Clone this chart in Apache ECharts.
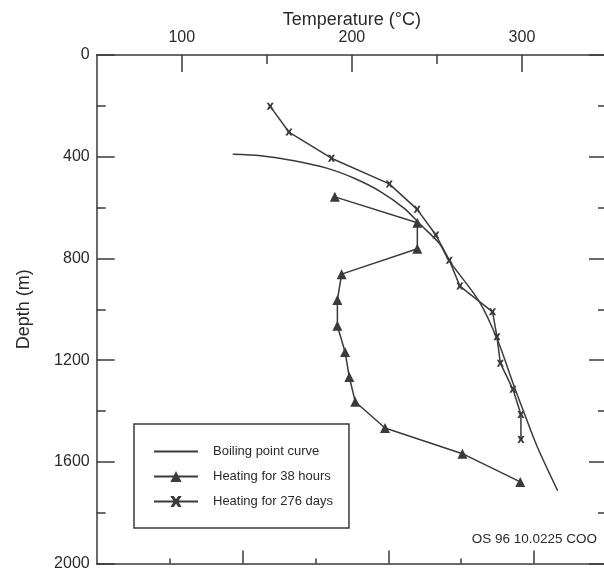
<!DOCTYPE html>
<html><head><meta charset="utf-8">
<script src="https://cdn.jsdelivr.net/npm/echarts@6/dist/echarts.min.js"></script>
<style>html,body{margin:0;padding:0;background:#fff}#c{width:604px;height:568px}</style>
</head><body><div id="c"></div>
<script>
// ---- data ----
const xTitle = 'Temperature (°C)';
const yTitle = 'Depth (m)';
const noteText = 'OS 96 10.0225 COO';
const seriesNames = ['Boiling point curve', 'Heating for 38 hours', 'Heating for 276 days'];

const xMajorTicks = [100, 200, 300];
const xMinorTicks = [150, 250];
const bottomMajorTicks = [2, 4, 6];
const bottomMinorTicks = [1, 3, 5];

const boilTemp  = [130, 146.5, 166, 185.7, 201.4, 217, 230.8, 240.6, 251.4, 257, 275, 285.7, 295.5, 301.4, 309, 321];
const boilDepth = [390, 396, 416, 446, 485, 538, 603, 669, 741, 807, 971, 1122, 1305, 1410, 1541, 1714];

const h38Temp  = [190, 238.5, 238.5, 194, 191.5, 191.5, 196, 198.5, 202, 219.5, 265, 299];
const h38Depth = [558, 660, 762, 862, 964, 1065, 1168, 1266, 1364, 1467, 1568, 1679];

const d276Temp  = [152, 163, 188, 222, 238.4, 249.4, 257.3, 263.5, 282.7, 285.3, 287.3, 294.7, 299.4, 299.4];
const d276Depth = [202, 303, 406, 507, 607, 708, 807, 909, 1010, 1108, 1212, 1315, 1414, 1512];

// ---- chart ----
const ink = '#2a2a2a';
const lineCol = '#3a3a3a';
const font = 'Liberation Sans, Arial, sans-serif';
const crossPath = 'path://M0,0 L3,0 L5,3 L7,0 L10,0 L7,5 L10,10 L7,10 L5,7 L3,10 L0,10 L3,5 Z';
const pair = (xs, ys) => xs.map((x, i) => [x, ys[i]]);

const axLine = {show: true, onZero: false, lineStyle: {color: lineCol, width: 1.5}};
const noLine = {show: false, onZero: false};
const tickStyle = {color: lineCol, width: 1.5};

const chart = echarts.init(document.getElementById('c'), null, {renderer: 'canvas'});
chart.setOption({
  animation: false,
  backgroundColor: '#fff',
  textStyle: {fontFamily: font, color: ink},
  title: {
    text: noteText, right: 7, top: 532, padding: 0,
    textStyle: {fontSize: 13.5, fontWeight: 'normal', color: ink, fontFamily: font}
  },
  grid: {left: 96.7, top: 55, right: -3, bottom: 4.5, outerBoundsMode: 'none', containLabel: false},
  legend: {
    show: true, orient: 'vertical', left: 134, top: 424,
    padding: [21, 16, 20, 19],
    itemWidth: 44, itemHeight: 14, itemGap: 12,
    borderColor: lineCol, borderWidth: 1.5, borderRadius: 0,
    textStyle: {fontSize: 13, color: ink, padding: [0, 0, 0, 10]},
    data: [
      {name: seriesNames[0], itemStyle: {color: 'transparent', borderColor: 'transparent', opacity: 0}},
      {name: seriesNames[1]},
      {name: seriesNames[2]}
    ]
  },
  xAxis: [
    {type: 'value', position: 'top', min: 50, max: 350, interval: 50,
     axisLine: axLine,
     axisTick: {show: true, inside: true, length: 17, customValues: xMajorTicks, lineStyle: tickStyle},
     axisLabel: {show: true, customValues: xMajorTicks, fontSize: 16, margin: 9, color: ink},
     splitLine: {show: false},
     name: xTitle, nameLocation: 'middle', nameGap: 26, nameMoveOverlap: false,
     nameTextStyle: {fontSize: 18, color: ink}},
    {type: 'value', position: 'top', min: 50, max: 350, interval: 50,
     axisLine: noLine,
     axisTick: {show: true, inside: true, length: 9, customValues: xMinorTicks, lineStyle: tickStyle},
     axisLabel: {show: false}, splitLine: {show: false}},
    {type: 'value', position: 'bottom', min: 0, max: 7, interval: 1,
     axisLine: axLine,
     axisTick: {show: true, inside: true, length: 13, customValues: bottomMajorTicks, lineStyle: tickStyle},
     axisLabel: {show: false}, splitLine: {show: false}},
    {type: 'value', position: 'bottom', min: 0, max: 7, interval: 1,
     axisLine: noLine,
     axisTick: {show: true, inside: true, length: 5, customValues: bottomMinorTicks, lineStyle: tickStyle},
     axisLabel: {show: false}, splitLine: {show: false}}
  ],
  yAxis: [
    {type: 'value', inverse: true, position: 'left', min: 0, max: 2000, interval: 400,
     axisLine: axLine,
     axisTick: {show: true, inside: true, length: 18, lineStyle: tickStyle},
     minorTick: {show: true, splitNumber: 2, length: 9, lineStyle: tickStyle},
     axisLabel: {show: true, fontSize: 16, margin: 7, color: ink, formatter: v => String(v)},
     splitLine: {show: false}, minorSplitLine: {show: false},
     name: yTitle, nameLocation: 'middle', nameGap: 64, nameMoveOverlap: false,
     nameTextStyle: {fontSize: 18, color: ink}},
    {type: 'value', inverse: true, position: 'right', min: 0, max: 2000, interval: 400,
     axisLine: axLine,
     axisTick: {show: true, inside: true, length: 18, lineStyle: tickStyle},
     minorTick: {show: true, splitNumber: 2, length: 9, lineStyle: tickStyle},
     axisLabel: {show: false},
     splitLine: {show: false}, minorSplitLine: {show: false}}
  ],
  series: [
    {name: seriesNames[0], type: 'line', xAxisIndex: 0, yAxisIndex: 0,
     data: pair(boilTemp, boilDepth), smooth: 0.3, symbol: 'none', showSymbol: false,
     lineStyle: {color: lineCol, width: 1.5}, itemStyle: {color: lineCol}},
    {name: seriesNames[1], type: 'line', xAxisIndex: 0, yAxisIndex: 0,
     data: pair(h38Temp, h38Depth), symbol: 'triangle', symbolSize: 10,
     lineStyle: {color: lineCol, width: 1.5}, itemStyle: {color: lineCol}},
    {name: seriesNames[2], type: 'line', xAxisIndex: 0, yAxisIndex: 0,
     data: pair(d276Temp, d276Depth), symbol: crossPath, symbolSize: 7,
     lineStyle: {color: lineCol, width: 1.5}, itemStyle: {color: lineCol}}
  ]
});
</script>
</body></html>
